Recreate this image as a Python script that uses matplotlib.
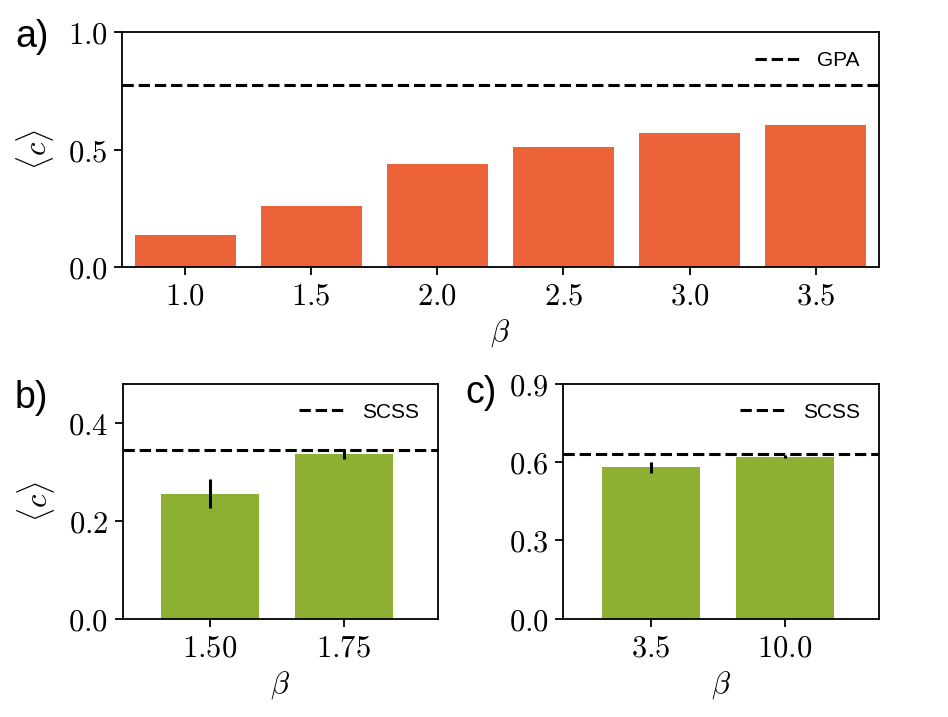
import matplotlib
matplotlib.use('Agg')
import matplotlib.pyplot as plt
from matplotlib.ticker import FuncFormatter

plt.rcParams['mathtext.fontset'] = 'cm'
plt.rcParams['axes.linewidth'] = 1.3

# panel a
beta_a = ['1.0', '1.5', '2.0', '2.5', '3.0', '3.5']
c_a = [0.136, 0.261, 0.438, 0.509, 0.571, 0.604]
gpa = 0.777

# panel b
beta_b = ['1.50', '1.75']
c_b = [0.256, 0.337]
err_b = [0.030, 0.011]
scss_b = 0.346

# panel c
beta_c = ['3.5', '10.0']
c_c = [0.580, 0.622]
err_c = [0.022, 0.007]
scss_c = 0.632

orange = '#EC6339'
green = '#8DB032'
tick_fs = 22
leg_prop = {'family': 'Liberation Sans', 'size': 15}

fig = plt.figure(figsize=(9.48, 7.17), dpi=100)
ax_a = fig.add_axes([0.1287, 0.628, 0.7982, 0.3267])
ax_b = fig.add_axes([0.1294, 0.1371, 0.3323, 0.3273])
ax_c = fig.add_axes([0.5942, 0.1371, 0.3327, 0.3273])


def style(ax, labels, ylabel=True):
    ax.set_xticks(range(len(labels)))
    ax.set_xticklabels(['$' + s + '$' for s in labels])
    ax.yaxis.set_major_formatter(FuncFormatter(lambda v, p: f'${v:.1f}$'))
    ax.tick_params(labelsize=tick_fs, length=5.5, width=1.3, pad=5)
    ax.set_xlabel(r'$\beta$', fontsize=tick_fs, labelpad=5)
    if ylabel:
        ax.set_ylabel(r'$\langle c \rangle$', fontsize=tick_fs, labelpad=8)


# a) 
ax_a.bar(range(len(c_a)), c_a, width=0.8, color=orange)
ax_a.axhline(gpa, color='black', ls='--', lw=2.2, label='GPA')
ax_a.set_xlim(-0.5, 5.5)
ax_a.set_ylim(0, 1.0)
ax_a.set_yticks([0.0, 0.5, 1.0])
style(ax_a, beta_a)
ax_a.legend(loc='upper right', frameon=False, prop=leg_prop, handlelength=2.2)

# b)
ax_b.bar(range(len(c_b)), c_b, width=0.73, color=green)
ax_b.errorbar(range(len(c_b)), c_b, yerr=err_b, fmt='none', ecolor='black', elinewidth=2.2, capsize=0)
ax_b.axhline(scss_b, color='black', ls='--', lw=2.2, label='SCSS')
ax_b.set_xlim(-0.65, 1.70)
ax_b.set_ylim(0, 0.48)
ax_b.set_yticks([0.0, 0.2, 0.4])
style(ax_b, beta_b)
ax_b.legend(loc='upper right', frameon=False, prop=leg_prop, handlelength=2.2)

# c)
ax_c.bar(range(len(c_c)), c_c, width=0.73, color=green)
ax_c.errorbar(range(len(c_c)), c_c, yerr=err_c, fmt='none', ecolor='black', elinewidth=2.2, capsize=0)
ax_c.axhline(scss_c, color='black', ls='--', lw=2.2, label='SCSS')
ax_c.set_xlim(-0.65, 1.70)
ax_c.set_ylim(0, 0.9)
ax_c.set_yticks([0.0, 0.3, 0.6, 0.9])
style(ax_c, beta_c, ylabel=False)
ax_c.legend(loc='upper right', frameon=False, prop=leg_prop, handlelength=2.2)

for x, y, s in [(15, 47, 'a)'), (15, 408, 'b)'), (465, 403, 'c)')]:
    fig.text(x / 948, 1 - y / 717, s, family='Liberation Sans', fontsize=27, va='baseline')

fig.savefig('out.png', dpi=100)
